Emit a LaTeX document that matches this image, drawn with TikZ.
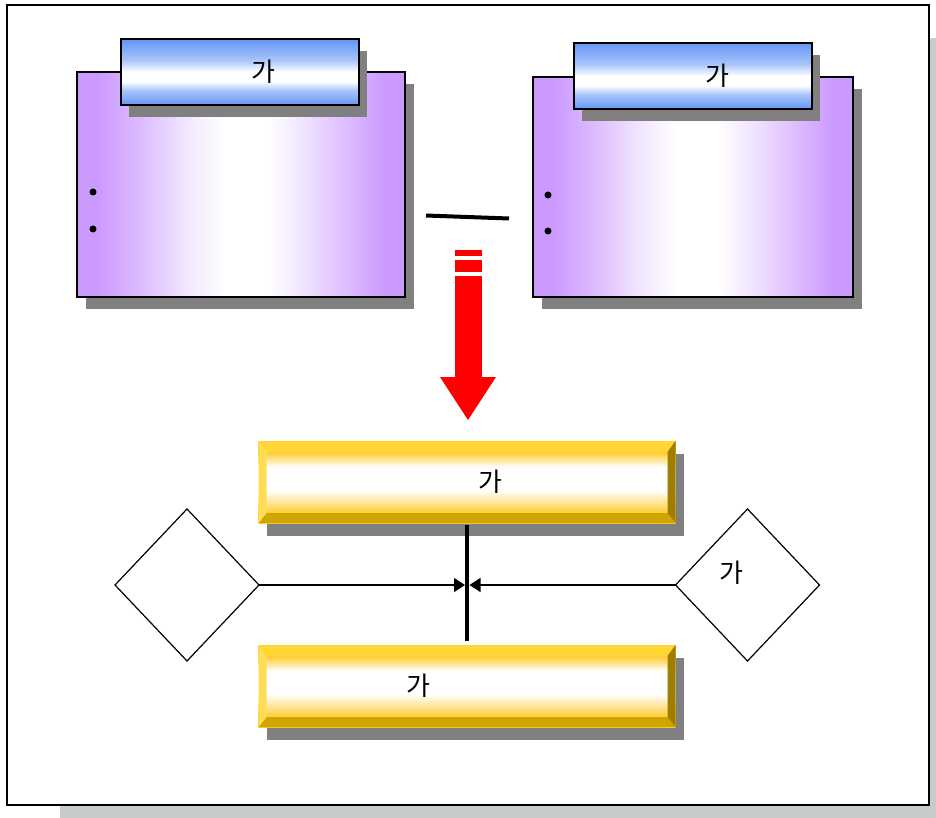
\documentclass[tikz,border=0pt]{standalone}
\usepackage{fontspec}
\newfontfamily\kr{Noto Sans CJK KR}
\usetikzlibrary{shapes.geometric,shadows,arrows.meta}
\definecolor{pur}{HTML}{CC99FF}
\definecolor{purmid}{HTML}{DDBDFF}
\definecolor{purlt}{HTML}{F1E6FF}
\definecolor{blu}{HTML}{6495F5}
\definecolor{blult}{HTML}{A9C5FA}
\definecolor{yel}{HTML}{FFCC33}
\definecolor{ytopc}{HTML}{FFD633}
\definecolor{yleftc}{HTML}{FFDD55}
\definecolor{ybotc}{HTML}{CFA500}
\definecolor{yrightc}{HTML}{9E7E00}
\definecolor{shg}{HTML}{808080}
\definecolor{frsh}{HTML}{C8CCC8}
\definecolor{arrred}{HTML}{FF0000}
\pgfdeclarehorizontalshading{purshade}{100bp}{color(0bp)=(pur); color(28bp)=(pur); color(35bp)=(purmid); color(41.5bp)=(purlt); color(47.5bp)=(white); color(54bp)=(white); color(59bp)=(purlt); color(66bp)=(purmid); color(72bp)=(pur); color(100bp)=(pur)}
\pgfdeclareverticalshading{blushade}{100bp}{color(0bp)=(blu); color(25bp)=(blu); color(36bp)=(blult); color(43bp)=(white); color(50bp)=(white); color(59bp)=(blult); color(75bp)=(blu); color(100bp)=(blu)}
\pgfdeclareverticalshading{yelshade}{100bp}{color(0bp)=(yel); color(31bp)=(yel); color(45bp)=(white); color(59bp)=(white); color(68bp)=(yel); color(100bp)=(yel)}
\newcommand\ybevel[1]{%
  \fill[ytopc] (#1.north west) -- (#1.north east) -- ([shift={(-8pt,-11pt)}]#1.north east) -- ([shift={(8pt,-11pt)}]#1.north west) -- cycle;
  \fill[ybotc] (#1.south west) -- (#1.south east) -- ([shift={(-8pt,10pt)}]#1.south east) -- ([shift={(8pt,10pt)}]#1.south west) -- cycle;
  \fill[yleftc] (#1.north west) -- ([shift={(8pt,-11pt)}]#1.north west) -- ([shift={(8pt,10pt)}]#1.south west) -- (#1.south west) -- cycle;
  \fill[yrightc] (#1.north east) -- ([shift={(-8pt,-11pt)}]#1.north east) -- ([shift={(-8pt,10pt)}]#1.south east) -- (#1.south east) -- cycle;
}
\tikzset{
  krfont/.style={font=\kr\fontsize{26}{30}\selectfont},
  pbox/.style={rectangle, draw=black, line width=1.4pt, shading=purshade, inner sep=0pt, outer sep=0pt,
    drop shadow={shadow xshift=9pt, shadow yshift=-12pt, fill=shg, opacity=1}},
  hbox/.style={rectangle, draw=black, line width=1.4pt, shading=blushade, inner sep=0pt, outer sep=0pt, krfont,
    drop shadow={shadow xshift=8pt, shadow yshift=-12pt, fill=shg, opacity=1}},
  ybox/.style={rectangle, shading=yelshade, inner sep=0pt, outer sep=0pt, krfont,
    drop shadow={shadow xshift=8pt, shadow yshift=-13pt, fill=shg, opacity=1}},
  dia/.style={diamond, draw=black, line width=1.2pt, fill=white, inner sep=0pt, outer sep=0pt},
  conn/.style={line width=1.3pt, -{Triangle[length=11pt,width=14pt]}},
  bar/.style={line width=4.5pt},
  txt/.style={inner sep=0pt, krfont}
}
\begin{document}
\begin{tikzpicture}[x=1pt,y=-1pt]
\useasboundingbox (0,0) rectangle (936,818);
% frame with shadow
\fill[frsh] (60,805) rectangle (936,818);
\fill[frsh] (929,38) rectangle (936,818);
\draw[line width=1.3pt, fill=white] (7,5) rectangle (929,805);
% upper boxes
\node[pbox, minimum width=328pt, minimum height=225pt] (LP) at (241,184.5) {};
\node[hbox, minimum width=238pt, minimum height=66pt] (LH) at (240,72) {\hspace*{46pt}가};
\node[pbox, minimum width=320pt, minimum height=220pt] (RP) at (693,187) {};
\node[hbox, minimum width=238pt, minimum height=66pt] (RH) at (693,76) {\hspace*{48pt}가};
% bullets
\fill (93,192) circle (3.5pt);
\fill (93,229) circle (3.5pt);
\fill (548,195) circle (3.5pt);
\fill (548,231) circle (3.5pt);
% short line between boxes
\draw[line width=4pt] (426,215.5) -- (509,218.5);
% red arrow
\fill[arrred] (455,250) rectangle (482,256);
\fill[arrred] (455,260) rectangle (482,272);
\fill[arrred] (455,276) rectangle (482,378);
\fill[arrred] (440,377) -- (496,377) -- (468,420) -- cycle;
% yellow bars
\node[ybox, minimum width=417pt, minimum height=82pt] (Y1) at (467,482) {\hspace*{46pt}가};
\ybevel{Y1}
\node[ybox, minimum width=417pt, minimum height=82pt] (Y2) at (467,686) {가\hspace*{98pt}};
\ybevel{Y2}
\draw[bar, shorten <=2pt, shorten >=4pt] (Y1.south) -- (Y2.north);
% diamonds
\node[dia, minimum width=144pt, minimum height=152pt] (LD) at (187,585) {};
\node[dia, minimum width=144pt, minimum height=152pt] (RD) at (747.5,585) {};
\node[txt] (RDT) at (731,573) {가};
\coordinate (jl) at (465,585);
\coordinate (jr) at (469.5,585);
\draw[conn] (LD.east) -- (jl);
\draw[conn] (RD.west) -- (jr);
\end{tikzpicture}
\end{document}
